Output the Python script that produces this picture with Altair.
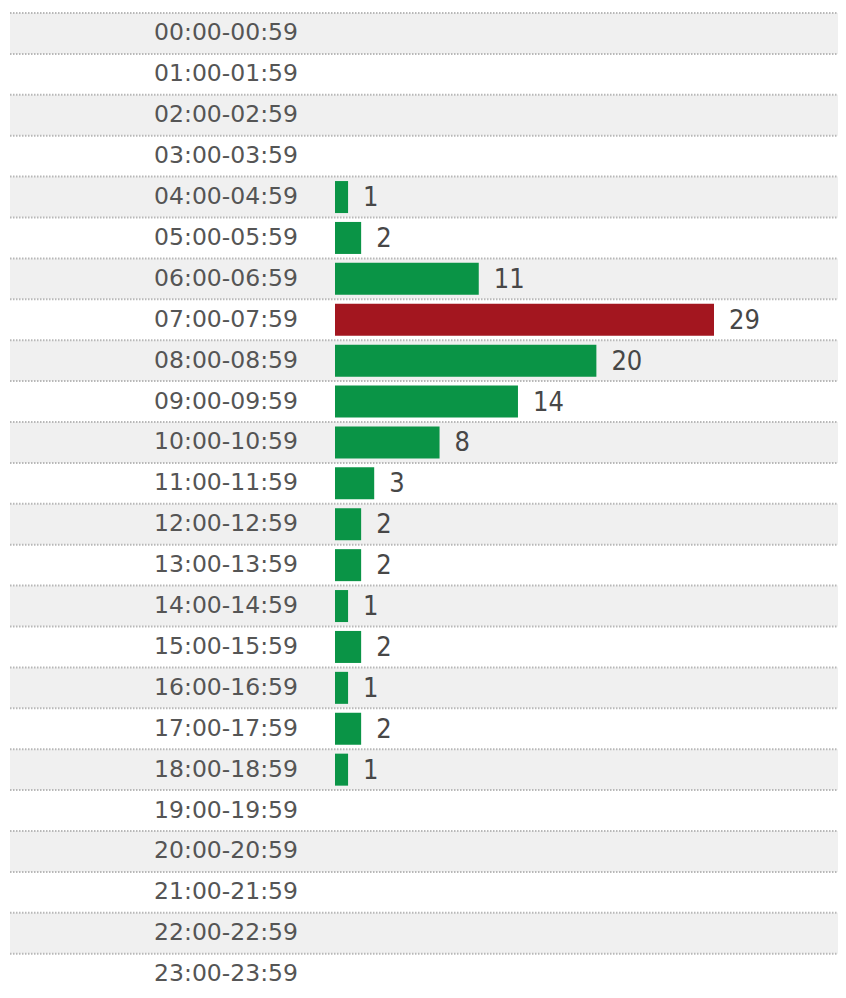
import altair as alt
import pandas as pd

hours = [
    "00:00-00:59", "01:00-01:59", "02:00-02:59", "03:00-03:59",
    "04:00-04:59", "05:00-05:59", "06:00-06:59", "07:00-07:59",
    "08:00-08:59", "09:00-09:59", "10:00-10:59", "11:00-11:59",
    "12:00-12:59", "13:00-13:59", "14:00-14:59", "15:00-15:59",
    "16:00-16:59", "17:00-17:59", "18:00-18:59", "19:00-19:59",
    "20:00-20:59", "21:00-21:59", "22:00-22:59", "23:00-23:59",
]
counts = [0, 0, 0, 0, 1, 2, 11, 29, 20, 14, 8, 3, 2, 2, 1, 2, 1, 2, 1, 0, 0, 0, 0, 0]

df = pd.DataFrame({"hour": hours, "count": counts, "row": list(range(len(hours)))})

GREEN = "#0a9446"
RED = "#a3161f"
W = 828

yscale = alt.Scale(domain=hours, range=[0, 981.6], paddingInner=0, paddingOuter=0)
y_enc = alt.Y("hour:N", sort=hours, scale=yscale, axis=None)
y_start = alt.Y("hour:N", sort=hours, scale=yscale, axis=None, bandPosition=0)

base = alt.Chart(df)

bg = base.transform_filter("datum.row % 2 == 0").mark_rect(color="#f0f0f0").encode(
    y=y_enc, x=alt.value(0), x2=alt.value(W)
)

rules = base.mark_rule(color="#b8b8b8", strokeDash=[1.5, 1.5], strokeWidth=2).encode(
    y=y_start, x=alt.value(0), x2=alt.value(W)
)

xscale = alt.Scale(domain=[0, 29], range=[325, 704], nice=False, zero=True)

bars = (
    base.transform_joinaggregate(maxc="max(count)")
    .transform_filter("datum.count > 0")
    .mark_bar(height=32)
    .encode(
        y=y_enc,
        x=alt.X("count:Q", scale=xscale, axis=None),
        color=alt.condition("datum.count == datum.maxc", alt.value(RED), alt.value(GREEN)),
    )
)

labels = base.mark_text(
    align="right", baseline="middle", font="DejaVu Sans", fontSize=23.5, color="#555555"
).encode(y=y_enc, x=alt.value(288), text="hour:N")

values = (
    base.transform_filter("datum.count > 0")
    .mark_text(
        align="left", baseline="middle", dx=15, dy=1,
        font="DejaVu Sans Condensed, Liberation Sans, sans-serif",
        fontSize=27, color="#474747",
    )
    .encode(y=y_enc, x=alt.X("count:Q", scale=xscale, axis=None), text="count:Q")
)

chart = (
    alt.layer(bg, rules, bars, labels, values)
    .properties(
        width=W, height=977,
        autosize=alt.AutoSizeParams(type="none"),
        padding={"left": 2, "top": 5, "right": 0, "bottom": 0},
        background="white",
    )
    .configure_view(strokeWidth=0)
)

chart.save("out.html", embed_options={"renderer": "svg", "actions": False})
